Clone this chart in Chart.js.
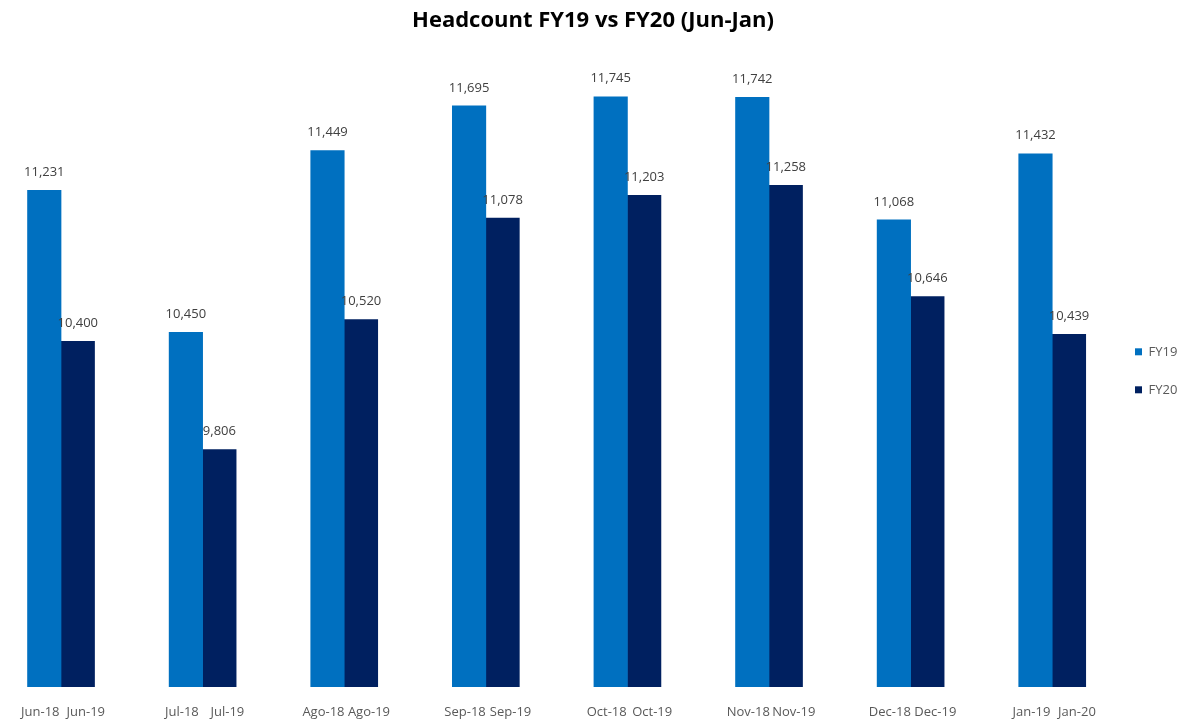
<!DOCTYPE html>
<html>
<head>
<meta charset="utf-8">
<script src="https://cdn.jsdelivr.net/npm/chart.js@4.4.1/dist/chart.umd.min.js"></script>
<style>
  body { margin: 0; background: #fff; }
  #wrap { width: 1186px; height: 721px; }
</style>
</head>
<body>
<div id="wrap"><canvas id="chart" width="1186" height="721"></canvas></div>
<script>
// months shown under each bar
const monthsFY19 = ["Jun-18", "Jul-18", "Ago-18", "Sep-18", "Oct-18", "Nov-18", "Dec-18", "Jan-19"];
const monthsFY20 = ["Jun-19", "Jul-19", "Ago-19", "Sep-19", "Oct-19", "Nov-19", "Dec-19", "Jan-20"];

const headcountFY19 = [11231, 10450, 11449, 11695, 11745, 11742, 11068, 11432];
const headcountFY20 = [10400, 9806, 10520, 11078, 11203, 11258, 10646, 10439];

const seriesNames = ["FY19", "FY20"];
const barLabels = [monthsFY19, monthsFY20];

const numFmt = new Intl.NumberFormat("en-US");
const toPoints = (arr) => arr.map((v, i) => ({ x: i, y: v }));

// value labels above bars + month label under each bar
const barTextPlugin = {
    id: "barText",
    afterDatasetsDraw(chart) {
        const ctx = chart.ctx;
        const bottom = chart.chartArea.bottom;
        const shift = [-4, 8];
        ctx.save();
        ctx.textAlign = "center";
        ctx.textBaseline = "middle";
        ctx.font = "13px 'Open Sans'";
        chart.data.datasets.forEach((ds, di) => {
            const meta = chart.getDatasetMeta(di);
            meta.data.forEach((bar, i) => {
                ctx.fillStyle = "#404040";
                ctx.fillText(numFmt.format(ds.data[i].y), bar.x, bar.y - 18);
                ctx.fillStyle = "#595959";
                ctx.fillText(barLabels[di][i], bar.x + shift[di], bottom + 25);
            });
        });
        ctx.restore();
    }
};

new Chart(document.getElementById("chart"), {
    type: "bar",
    data: {
        datasets: [
            { label: seriesNames[0], data: toPoints(headcountFY19), backgroundColor: "#0070C0" },
            { label: seriesNames[1], data: toPoints(headcountFY20), backgroundColor: "#002060" }
        ]
    },
    options: {
        responsive: false,
        animation: false,
        layout: { padding: { left: 0, right: 0, top: 0, bottom: 34 } },
        datasets: { bar: { barThickness: 33.5 } },
        plugins: {
            title: {
                display: true,
                text: "Headcount FY19 vs FY20 (Jun-Jan)",
                color: "#000",
                font: { family: "'Open Sans'", size: 22, weight: "bold" },
                padding: { top: 8, bottom: 16 }
            },
            legend: {
                position: "right",
                maxWidth: 76,
                title: { display: true, text: "", font: { size: 13 }, padding: { top: 39, bottom: 0 } },
                labels: {
                    boxWidth: 7,
                    boxHeight: 7,
                    padding: 25,
                    color: "#595959",
                    font: { family: "'Open Sans'", size: 13 }
                }
            },
            tooltip: { enabled: false }
        },
        scales: {
            x: { type: "linear", display: false, offset: false, min: -0.431, max: 7.408 },
            y: { display: false, min: 8500, max: 12000 }
        }
    },
    plugins: [barTextPlugin]
});
</script>
</body>
</html>
